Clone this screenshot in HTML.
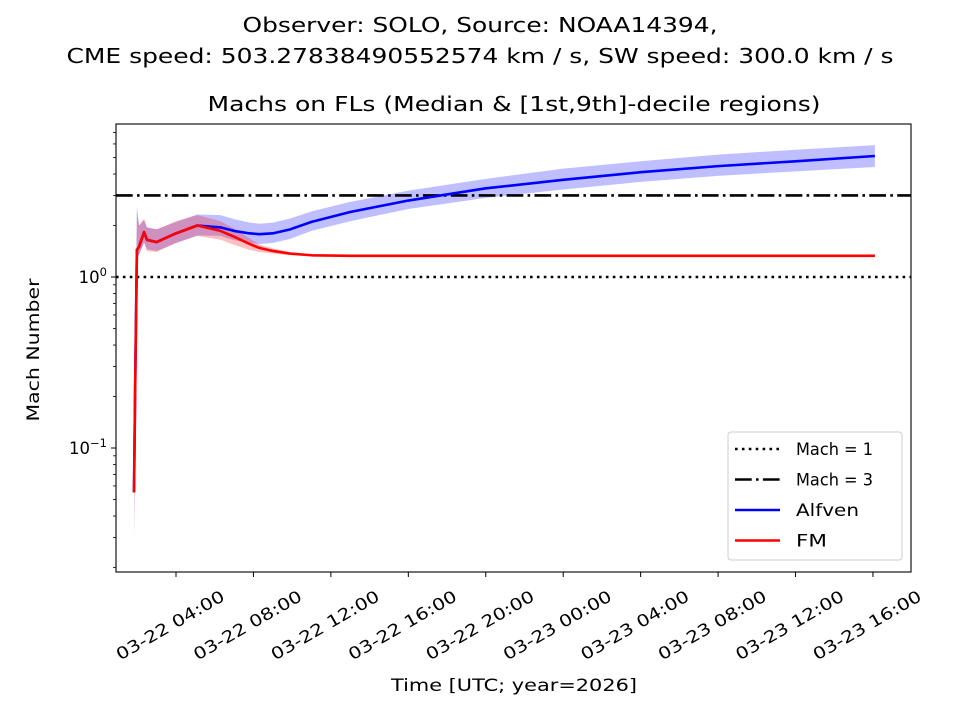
<!DOCTYPE html>
<html><head><meta charset="utf-8"><style>
body{margin:0;background:#fff;}
svg{display:block;font-family:"DejaVu Sans","Liberation Sans",sans-serif;}
</style></head><body>
<svg id="c" width="960" height="720" viewBox="0 0 960 720"></svg>
<script>
const timesHours = [1.83,1.9,1.98,2.09,2.35,2.5,3.0,4.0,5.1,6.3,7.0,7.8,8.3,9.0,9.9,11,13,16,20,24,28,32,36,40.1];
const alfvenMedian = [0.055,0.28,1.44,1.5,1.83,1.65,1.6,1.8,2.0,1.95,1.86,1.8,1.78,1.8,1.9,2.1,2.4,2.8,3.3,3.7,4.1,4.45,4.75,5.1];
const alfvenLow = [0.03,0.2,1.3,1.35,1.6,1.45,1.42,1.58,1.75,1.74,1.64,1.58,1.56,1.58,1.67,1.86,2.12,2.5,2.9,3.25,3.6,3.9,4.15,4.4];
const alfvenHigh = [0.07,0.35,2.6,2.0,2.15,1.95,1.9,2.1,2.32,2.3,2.18,2.08,2.05,2.08,2.2,2.42,2.75,3.2,3.75,4.3,4.75,5.2,5.55,5.9];
const fmMedian = [0.055,0.275,1.44,1.5,1.83,1.65,1.6,1.8,2.0,1.86,1.72,1.56,1.48,1.42,1.37,1.34,1.33,1.33,1.33,1.33,1.33,1.33,1.33,1.33];
const fmLow = [0.03,0.2,1.3,1.35,1.58,1.42,1.4,1.58,1.74,1.65,1.54,1.44,1.4,1.37,1.34,1.32,1.32,1.32,1.32,1.32,1.32,1.32,1.32,1.32];
const fmHigh = [0.07,0.35,2.4,2.0,2.2,1.95,1.9,2.12,2.3,2.12,1.92,1.68,1.55,1.47,1.4,1.36,1.34,1.34,1.34,1.34,1.34,1.34,1.34,1.34];
const xTickHours = [4,8,12,16,20,24,28,32,36,40];
const xTickLabels = ["03-22 04:00","03-22 08:00","03-22 12:00","03-22 16:00","03-22 20:00","03-23 00:00","03-23 04:00","03-23 08:00","03-23 12:00","03-23 16:00"];
const refLevels = [1,3];

const L=116,R=911,T=124,B=572;
const yPerDec=171, y0=277;
function X(h){return 176+(h-4)*19.36;}
function Y(v){return y0-Math.log10(v)*yPerDec;}
const svg=document.getElementById('c');
const NS='http://www.w3.org/2000/svg';
function mk(tag,attrs,parent){const e=document.createElementNS(NS,tag);for(const k in attrs)e.setAttribute(k,attrs[k]);(parent||svg).appendChild(e);return e;}
function txt(s,attrs,parent){const e=mk('text',attrs,parent);e.textContent=s;return e;}

txt("Observer: SOLO, Source: NOAA14394,",{x:480,y:32,'text-anchor':'middle','font-size':20.5,textLength:475,lengthAdjust:'spacingAndGlyphs',fill:'#000',});
txt("CME speed: 503.27838490552574 km / s, SW speed: 300.0 km / s",{x:480,y:63,'text-anchor':'middle','font-size':20.5,textLength:827,lengthAdjust:'spacingAndGlyphs',fill:'#000',});
txt("Machs on FLs (Median & [1st,9th]-decile regions)",{x:514,y:111,'text-anchor':'middle','font-size':20.5,textLength:613,lengthAdjust:'spacingAndGlyphs',fill:'#000',});

const clip=mk('clipPath',{id:'pc'});mk('rect',{x:L,y:T,width:R-L,height:B-T},clip);
const plot=mk('g',{'clip-path':'url(#pc)'});



function band(lo,hi,color,op,name){
  let d='M'+timesHours.map((h,i)=>X(h)+','+Y(hi[i])).join('L');
  for(let i=timesHours.length-1;i>=0;i--)d+='L'+X(timesHours[i])+','+Y(lo[i]);
  const p=mk('path',{d:d+'Z',fill:color,'fill-opacity':op,stroke:'none'},plot);
  
  
}
function line(vals,color,name){
  const p=mk('path',{d:'M'+timesHours.map((h,i)=>X(h)+','+Y(vals[i])).join('L'),fill:'none',stroke:color,'stroke-width':2.6,'stroke-linejoin':'round'},plot);
  
  
}
band(alfvenLow,alfvenHigh,'#0000ff',0.25,'alfven-decile-band');
band(fmLow,fmHigh,'#ff0000',0.25,'fm-decile-band');
const r1=mk('line',{x1:L,x2:R,y1:Y(refLevels[0]),y2:Y(refLevels[0]),stroke:'#000','stroke-width':2.6,'stroke-dasharray':'2.6 4.3'},plot);


const r3=mk('line',{x1:L,x2:R,y1:Y(refLevels[1]),y2:Y(refLevels[1]),stroke:'#000','stroke-width':2.6,'stroke-dasharray':'16.7 4.3 2.6 4.3'},plot);


line(alfvenMedian,'#0000ff','alfven-line');
line(fmMedian,'#ff0000','fm-line');

const fr=mk('rect',{x:L,y:T,width:R-L,height:B-T,fill:'none',stroke:'#000','stroke-width':1.1});



const yAxis=mk('g',{});


for(let dec=-2;dec<=0;dec++){
  for(let m=1;m<10;m++){
    const v=m*Math.pow(10,dec);const y=Y(v);
    if(y<T||y>B)continue;
    mk('line',{x1:L,x2:L-(m===1?5:3),y1:y,y2:y,stroke:'#000','stroke-width':m===1?1:0.8},yAxis);
  }
}
const lab0=mk('text',{x:L-9,y:Y(1)+6,'text-anchor':'end','font-size':16.5,fill:'#000'},yAxis);
lab0.innerHTML='10<tspan dy="-7" font-size="11.5">0</tspan>';


const lab1=mk('text',{x:L-9,y:Y(0.1)+6,'text-anchor':'end','font-size':16.5,fill:'#000'},yAxis);
lab1.innerHTML='10<tspan dy="-7" font-size="11.5">−1</tspan>';


txt("Mach Number",{x:0,y:0,transform:'translate(39,350) rotate(-90)','text-anchor':'middle','font-size':16.5,textLength:143,lengthAdjust:'spacingAndGlyphs',fill:'#000',});

const xAxis=mk('g',{});


xTickHours.forEach((h,i)=>{
  const x=X(h);
  mk('line',{x1:x,x2:x,y1:B,y2:B+5,stroke:'#000','stroke-width':1},xAxis);
  const t=txt(xTickLabels[i],{x:0,y:6,transform:`translate(${x-6},${625}) rotate(-30)`,'text-anchor':'middle','font-size':16.5,textLength:122,lengthAdjust:'spacingAndGlyphs',fill:'#000'},xAxis);
  
  
});
txt("Time [UTC; year=2026]",{x:514,y:691,'text-anchor':'middle','font-size':16.5,textLength:246,lengthAdjust:'spacingAndGlyphs',fill:'#000',});

const lg=mk('g',{});


mk('rect',{x:728,y:432,width:174,height:128,rx:3,fill:'#fff','fill-opacity':0.8,stroke:'#ccc','stroke-width':1},lg);
const entries=[['Mach = 1','#000','2.6 4.3',77],['Mach = 3','#000','16.7 4.3 2.6 4.3',77],['Alfven','#0000ff','',63],['FM','#ff0000','',31]];
entries.forEach((e,i)=>{
  const y=449+i*30.5;
  const g=mk('g',{},lg);
  
  
  const a={x1:735,x2:780,y1:y,y2:y,stroke:e[1],'stroke-width':2.6};
  if(e[2])a['stroke-dasharray']=e[2];
  mk('line',a,g);
  txt(e[0],{x:796,y:y+6,'font-size':16.5,textLength:e[3],lengthAdjust:'spacingAndGlyphs',fill:'#000'},g);
});
</script>
</body></html>
